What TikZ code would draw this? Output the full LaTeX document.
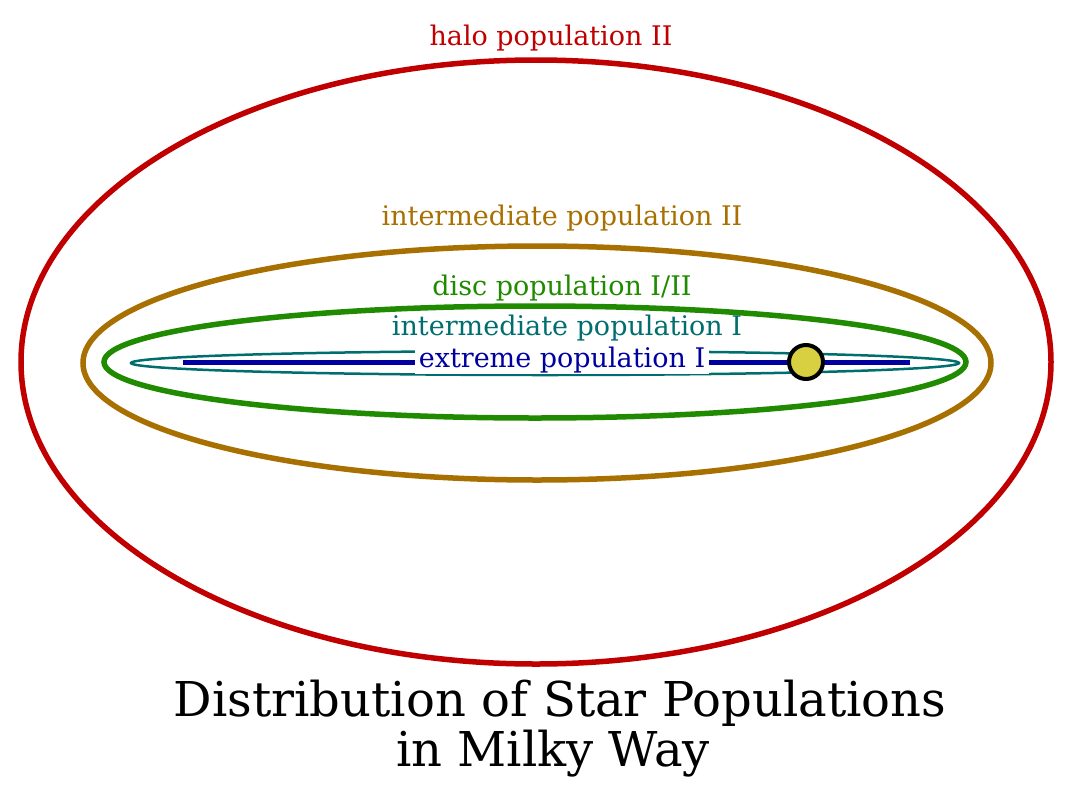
\documentclass[tikz,border=0pt]{standalone}
\usepackage{fontspec}
\setmainfont{DejaVu Serif}
\definecolor{halo}{HTML}{C00000}
\definecolor{inter}{HTML}{A87000}
\definecolor{disc}{HTML}{208A00}
\definecolor{teal2}{HTML}{006E6E}
\definecolor{blue2}{HTML}{0000A0}
\definecolor{sunc}{HTML}{D8D040}
\tikzset{lab/.style={font=\fontsize{27}{29}\selectfont, inner sep=1pt},
 ttl/.style={font=\fontsize{48}{52}\selectfont}}
\begin{document}
\begin{tikzpicture}[x=1pt,y=-1pt]
\useasboundingbox (0,0) rectangle (1080,785);
\draw[halo, line width=5.5] (536,362) ellipse [x radius=515, y radius=302];
\draw[inter, line width=5.5] (537,363) ellipse [x radius=454, y radius=117];
\draw[disc, line width=5.5] (535,362) ellipse [x radius=431, y radius=56];
\draw[teal2, line width=2.5] (545,363) ellipse [x radius=414, y radius=12];
\coordinate (bl) at (183,362); \coordinate (br) at (910,362);
\draw[blue2, line width=5] (bl) -- (br);
\node[lab, text=blue2, fill=white, inner xsep=4pt] (ext) at (562,360) {extreme population I};
\node[draw=black, line width=4, fill=sunc, circle, minimum size=34, inner sep=0] (sun) at (806,362) {};
\node[lab, text=halo] (h) at (551,38) {halo population II};
\node[lab, text=inter] (i2) at (562,218) {intermediate population II};
\node[lab, text=disc] (d) at (562,288) {disc population I/II};
\node[lab, text=teal2] (i1) at (567,328) {intermediate population I};
\node[ttl] (t1) at (560,703) {Distribution of Star Populations};
\node[ttl] (t2) at (553,754) {in Milky Way};
\end{tikzpicture}
\end{document}
